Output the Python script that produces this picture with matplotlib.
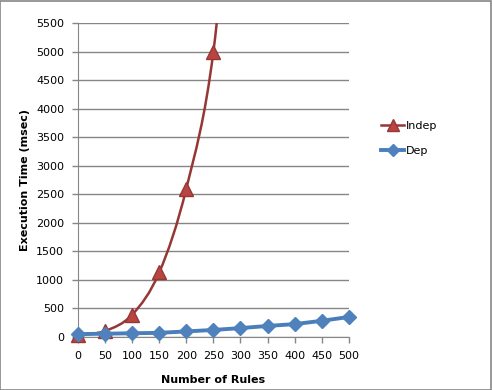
import numpy as np
import matplotlib
matplotlib.use("Agg")
from matplotlib import pyplot as plt
from matplotlib.path import Path
from matplotlib.patches import PathPatch, Rectangle

rules = [0, 50, 100, 150, 200, 250, 300, 350, 400, 450, 500]
indep_x = [0, 50, 100, 150, 200, 250, 300]
indep = [30, 105, 390, 1130, 2600, 5000, 10000]
dep = [50, 57, 65, 72, 97, 123, 155, 193, 225, 283, 350]


def smooth_path(xs, ys):
    # excel-ish smoothing: cardinal bezier through the points
    xs = np.asarray(xs, float)
    ys = np.asarray(ys, float)
    n = len(xs)
    verts = [(xs[0], ys[0])]
    codes = [Path.MOVETO]
    t = 1.0 / 6
    for i in range(n - 1):
        p0 = (xs[max(i - 1, 0)], ys[max(i - 1, 0)])
        p1 = (xs[i], ys[i])
        p2 = (xs[i + 1], ys[i + 1])
        p3 = (xs[min(i + 2, n - 1)], ys[min(i + 2, n - 1)])
        c1 = (p1[0] + (p2[0] - p0[0]) * t, p1[1] + (p2[1] - p0[1]) * t)
        c2 = (p2[0] - (p3[0] - p1[0]) * t, p2[1] - (p3[1] - p1[1]) * t)
        verts += [c1, c2, p2]
        codes += [Path.CURVE4] * 3
    return Path(verts, codes)


fig = plt.figure(figsize=(4.92, 3.90), dpi=100)
fig.patches.append(Rectangle((0.001, 0.001), 0.997, 0.996, transform=fig.transFigure,
                             fill=False, edgecolor="#868686", linewidth=1.2))
ax = fig.add_axes([0.1585, 0.136, 0.5505, 0.805])

red = "#953735"
blue = "#4A7EBB"

ax.add_patch(PathPatch(smooth_path(indep_x, indep), fill=False, edgecolor=red,
                       linewidth=1.8, zorder=3))
# only markers inside the y range, unclipped so the one at 0 shows whole
vis = [i for i, v in enumerate(indep) if v <= 5500]
ax.plot([indep_x[i] for i in vis], [indep[i] for i in vis], linestyle="none",
        marker="^", markersize=10, markerfacecolor="#B84541", markeredgecolor=red,
        markeredgewidth=1, zorder=4, clip_on=False)
ax.plot(rules, dep, color=blue, linewidth=2.8, marker="D", markersize=7,
        markerfacecolor="#4F81BD", markeredgecolor="#4F81BD", zorder=5,
        clip_on=False)

# legend proxies
ax.plot([], [], color=red, linewidth=1.8, marker="^", markersize=9,
        markerfacecolor="#B84541", markeredgecolor=red, label="Indep")
ax.plot([], [], color=blue, linewidth=2.8, marker="D", markersize=6,
        markerfacecolor="#4F81BD", markeredgecolor="#4F81BD", label="Dep")
handles, labels = ax.get_legend_handles_labels()
fig.legend(handles[-2:], labels[-2:], loc="center left", bbox_to_anchor=(0.755, 0.645),
           frameon=False, fontsize=8, handlelength=2.0, handletextpad=0.2,
           labelspacing=1.4)

ax.set_xlim(0, 500)
ax.set_ylim(0, 5500)
ax.set_xticks(rules)
ax.set_yticks(np.arange(0, 5501, 500))
ax.grid(axis="y", color="#868686", linewidth=1)
ax.set_axisbelow(True)
for s in ["top", "right"]:
    ax.spines[s].set_visible(False)
for s in ["left", "bottom"]:
    ax.spines[s].set_color("#868686")
ax.tick_params(axis="both", colors="#868686", labelcolor="black", labelsize=8,
               length=4, width=1)
ax.tick_params(axis="x", pad=6)
ax.tick_params(axis="y", pad=6)

ax.set_xlabel("Number of Rules", fontsize=8, fontweight="bold", labelpad=10)
ax.set_ylabel("Execution Time (msec)", fontsize=8, fontweight="bold", labelpad=4)

fig.savefig("out.png", dpi=100)
